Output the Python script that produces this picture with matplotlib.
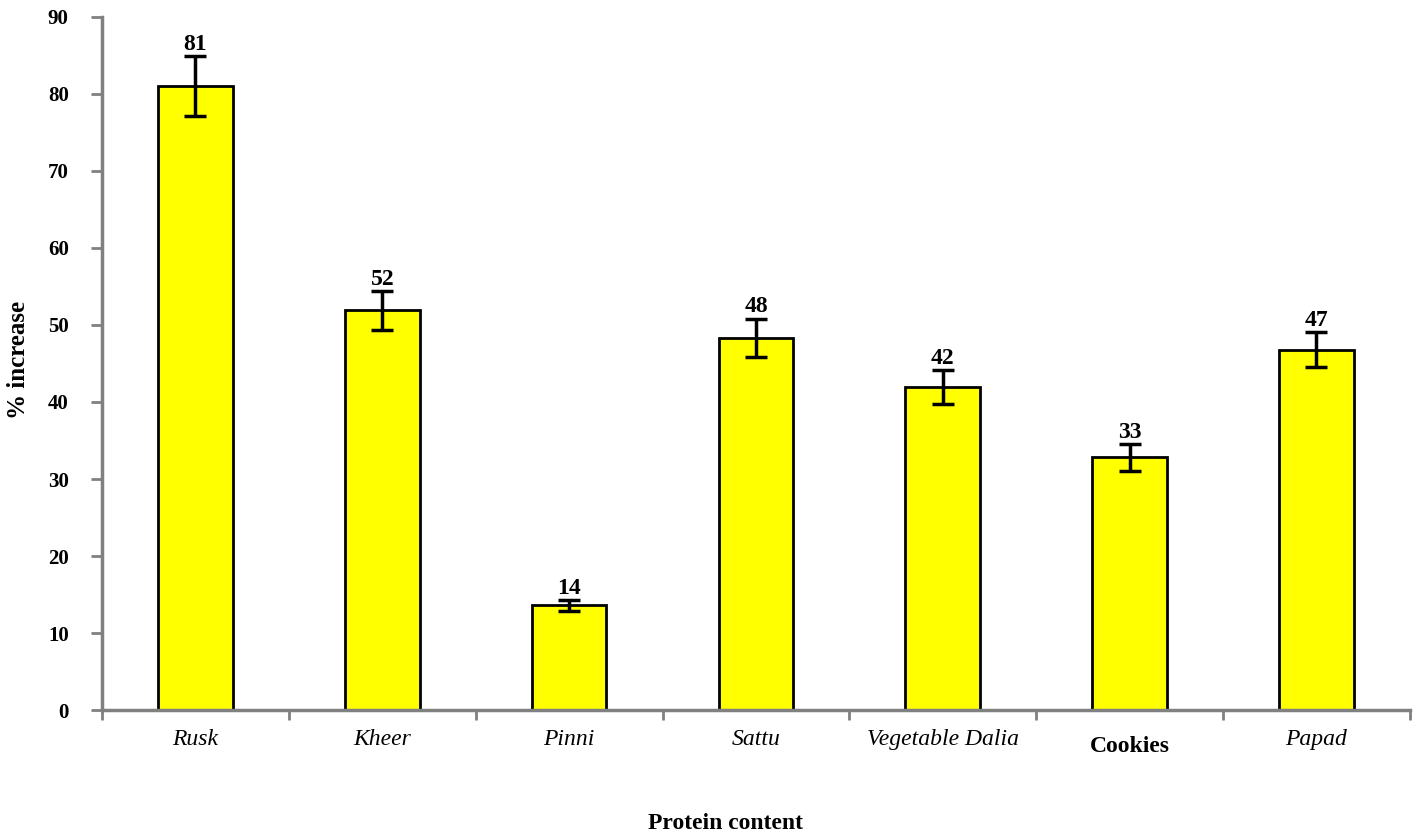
import matplotlib
matplotlib.use("Agg")
from matplotlib import pyplot as plt
import numpy as np

foods = ["Rusk", "Kheer", "Pinni", "Sattu", "Vegetable Dalia", "Cookies", "Papad"]
increase = [81.0, 51.9, 13.6, 48.3, 41.9, 32.8, 46.8]
errors = [3.9, 2.5, 0.7, 2.5, 2.2, 1.7, 2.3]
labels = ["81", "52", "14", "48", "42", "33", "47"]

plt.rcParams['font.family'] = ['Liberation Serif', 'DejaVu Serif']

fig = plt.figure(figsize=(14.17, 8.36), dpi=100)
ax = fig.add_axes([0.072, 0.1507, 0.923, 0.829])

x = np.arange(1, len(foods) + 1)
ax.bar(x, increase, width=0.4, color="#ffff00", edgecolor="black", linewidth=2, zorder=2)
ax.errorbar(x, increase, yerr=errors, fmt="none", ecolor="black",
            elinewidth=2.5, capsize=8, capthick=2.5, zorder=3)

for xi, v, e, t in zip(x, increase, errors, labels):
    ax.annotate(t, (xi, v + e), xytext=(0, 1), textcoords="offset points",
                ha="center", va="bottom", fontsize=17, fontweight="bold")

ax.set_xlim(0.5, len(foods) + 0.5)
ax.set_ylim(0, 90)
ax.set_yticks(range(0, 91, 10))
ax.set_yticklabels([str(v) for v in range(0, 91, 10)], fontsize=15, fontweight="bold")

# category names between the minor ticks
ax.set_xticks(x)
ax.set_xticklabels(foods, fontsize=17)
for lbl in ax.get_xticklabels():
    if lbl.get_text() == "Cookies":
        lbl.set_fontweight("bold")
        lbl.set_y(-0.01)
    else:
        lbl.set_fontstyle("italic")
ax.tick_params(axis="x", which="major", length=0, pad=14)
ax.set_xticks(np.arange(0.5, len(foods) + 1, 1), minor=True)
ax.tick_params(axis="x", which="minor", length=7, width=2, color="#808080")
ax.tick_params(axis="y", length=8, width=2, color="#808080", pad=16)

for s in ["top", "right"]:
    ax.spines[s].set_visible(False)
for s in ["left", "bottom"]:
    ax.spines[s].set_color("#808080")
    ax.spines[s].set_linewidth(2.5)

fig.text(0.013, 0.57, "% increase", rotation=90, ha="center", va="center",
         fontsize=18, fontweight="bold")
fig.text(0.512, 0.015, "Protein content", ha="center", va="center",
         fontsize=17, fontweight="bold")

plt.savefig("out.png", dpi=100)
